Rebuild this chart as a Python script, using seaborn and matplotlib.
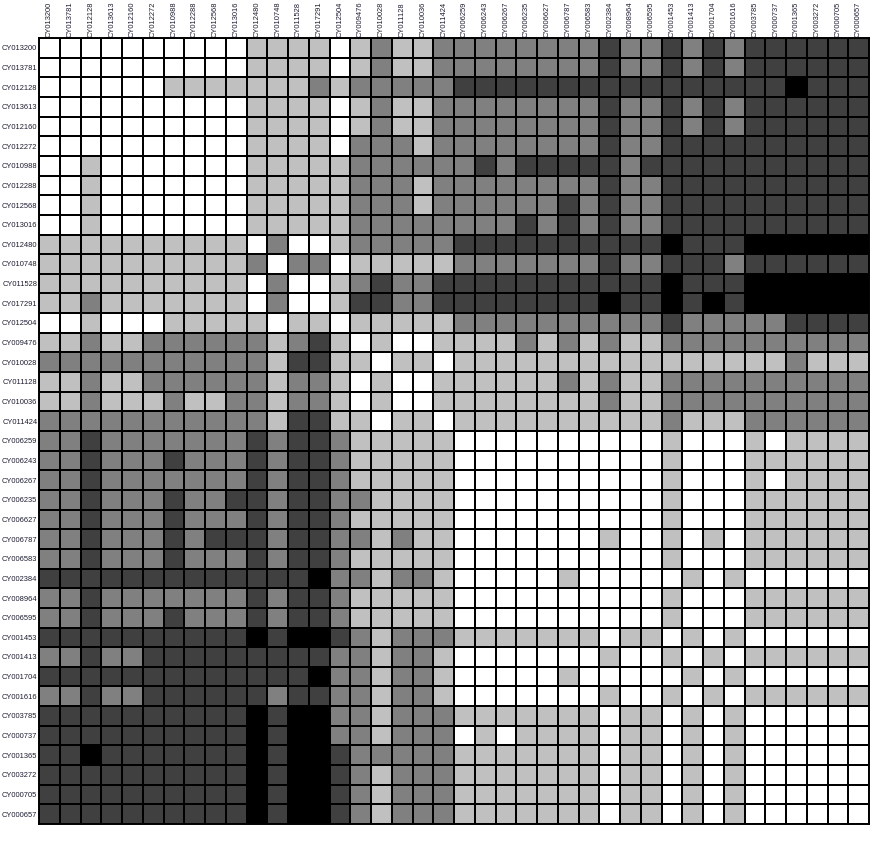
import numpy as np
import seaborn as sns
import matplotlib.pyplot as plt
from matplotlib.colors import ListedColormap

samples = ["CY013200", "CY013781", "CY012128", "CY013613", "CY012160", "CY012272",
           "CY010988", "CY012288", "CY012568", "CY013016", "CY012480", "CY010748",
           "CY011528", "CY017291", "CY012504", "CY009476", "CY010028", "CY011128",
           "CY010036", "CY011424", "CY006259", "CY006243", "CY006267", "CY006235",
           "CY006627", "CY006787", "CY006583", "CY002384", "CY008964", "CY006595",
           "CY001453", "CY001413", "CY001704", "CY001616", "CY003785", "CY000737",
           "CY001365", "CY003272", "CY000705", "CY000657"]

# distance class per pair, 0 = closest (white) ... 4 = farthest (black)
levels = [
    "00000000001111" "0121122222222" "3223232333333",
    "00000000001111" "0121122222222" "3223232333333",
    "00000011111112" "1222223333333" "3333333334333",
    "00000000001111" "0121122222222" "3223232333333",
    "00000000001111" "0121122222222" "3223232333333",
    "00000000001111" "0222122222222" "3223333333333",
    "00100000001111" "1222222323333" "3233333333333",
    "00100000001111" "1222122222222" "3223333333333",
    "00100000001111" "1222122222232" "3223333333333",
    "00100000001111" "1222222223232" "3223333333333",
    "11111111110200" "1222223333333" "3334333444444",
    "11111111112022" "0111112222222" "3223332333333",
    "11111111110200" "1232233333333" "3334333444444",
    "11211111110200" "1332233333333" "4334343444444",
    "00100011111011" "0111112222222" "2223222223333",
    "11211222222123" "1010011112121" "2112222222222",
    "22222222222133" "1101101111111" "1111111112111",
    "11211222222122" "1010011111121" "2112222222222",
    "11211121122122" "1010011111111" "2112222222222",
    "22222222222133" "1101101111111" "1112111222222",
    "22322222223233" "2111110000000" "0001000101111",
    "22322232223233" "2111110000000" "0001000111111",
    "22322222223233" "2111110000000" "0001000101111",
    "22322232233233" "2211110000000" "0001000111111",
    "22322232223233" "2111110000000" "0001000111111",
    "22322232333233" "2212110000000" "1001010111111",
    "22322232223233" "2111110000000" "0001000111111",
    "33333333333334" "2212210000010" "0000101000000",
    "22322222223233" "2111110000000" "0001000111111",
    "22322232223233" "2111110000000" "0001000111111",
    "33333333334344" "3212221111111" "0110101000000",
    "22322333333333" "2212210000000" "1001010111111",
    "33333333333334" "2212210000010" "0000101000000",
    "22322333333233" "2212210000000" "1001010111111",
    "33333333334344" "2212221111111" "0110101000000",
    "33333333334344" "2212220101111" "0110101000000",
    "33433333334344" "3222221111111" "0110101000000",
    "33333333334344" "3212221111111" "0110101000000",
    "33333333334344" "3212221111111" "0110101000000",
    "33333333334344" "3212221111111" "0110101000000",
]

gray_levels = ["#ffffff", "#c0c0c0", "#808080", "#404040", "#000000"]

matrix = np.array([[int(c) for c in row] for row in levels])

plt.rcParams["font.family"] = ["Liberation Sans", "DejaVu Sans"]
fig = plt.figure(figsize=(8.79, 8.45), dpi=100)
ax = fig.add_axes([39 / 879, 20 / 845, 830 / 879, 786 / 845])

sns.heatmap(matrix, ax=ax, cmap=ListedColormap(gray_levels), vmin=-0.5, vmax=4.5,
            cbar=False, linewidths=1.2, linecolor="black", square=False,
            xticklabels=samples, yticklabels=samples)

ax.xaxis.tick_top()
ax.tick_params(axis="both", length=0, pad=1.2, labelsize=5.4, colors="#1c1c30")
plt.setp(ax.get_xticklabels(), rotation=90, va="bottom", ha="center")
plt.setp(ax.get_yticklabels(), rotation=0, va="center", ha="right")
for side in ax.spines.values():
    side.set_visible(True)
    side.set_linewidth(1.4)
    side.set_color("black")

fig.savefig("out.png", dpi=100)
